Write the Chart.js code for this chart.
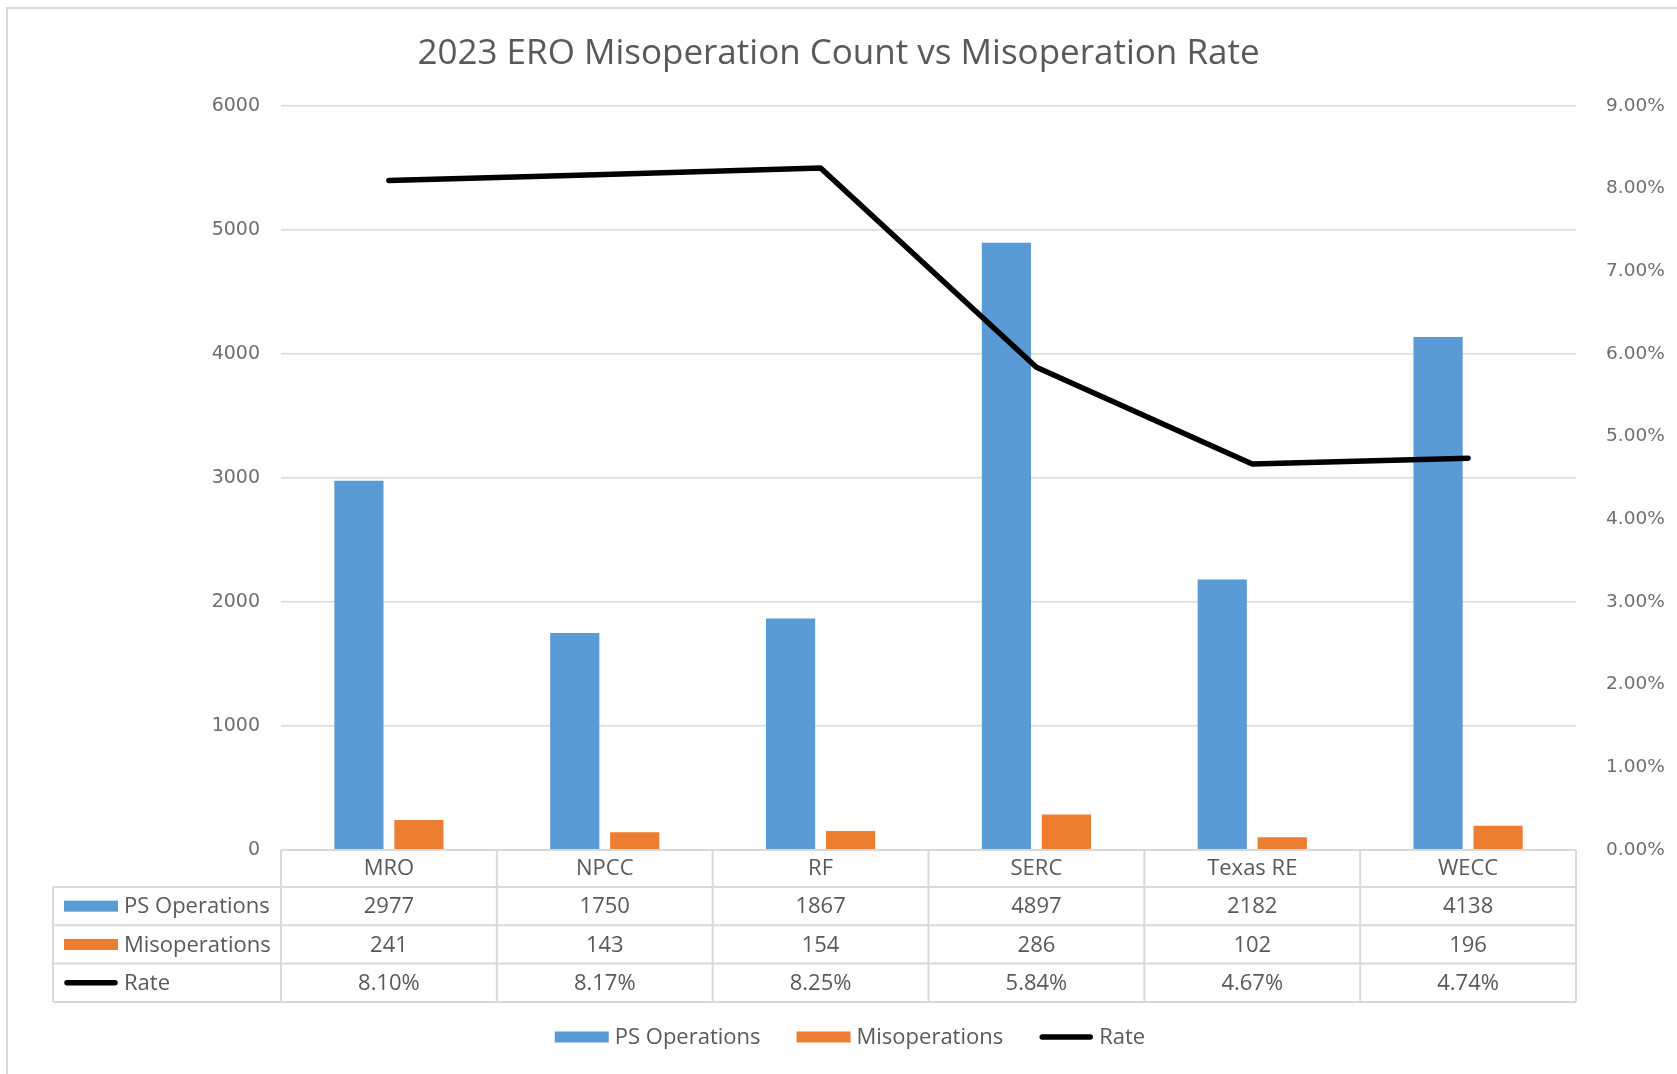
<!DOCTYPE html>
<html>
<head>
<meta charset="utf-8">
<title>2023 ERO Misoperation Count vs Misoperation Rate</title>
<script src="https://cdn.jsdelivr.net/npm/chart.js@4.4.1/dist/chart.umd.min.js"></script>
<style>
  html, body { margin: 0; padding: 0; background: #fff; }
  #wrap { width: 1677px; height: 1074px; position: relative; }
</style>
</head>
<body>
<div id="wrap"><canvas id="myChart"></canvas></div>
<script>
// data
const regions = ['MRO', 'NPCC', 'RF', 'SERC', 'Texas RE', 'WECC'];
const psOperations = [2977, 1750, 1867, 4897, 2182, 4138];
const misoperations = [241, 143, 154, 286, 102, 196];
const ratePct = [8.10, 8.17, 8.25, 5.84, 4.67, 4.74];
const countAxis = { min: 0, max: 6000, step: 1000 };
const rateAxis = { min: 0, max: 9, step: 1 };

const blue = '#5B9BD5';
const orange = '#ED7D31';
const textGray = '#595959';
const lineGray = '#d9d9d9';
const sans = "'Open Sans', sans-serif";

var ctx = document.getElementById('myChart').getContext('2d');

// frame round the chart (only the left and top edges show in the picture)
const framePlugin = {
  id: 'frame',
  beforeDraw(chart) {
    const c = chart.ctx;
    c.save();
    c.fillStyle = '#fff';
    c.fillRect(0, 0, chart.width, chart.height);
    c.strokeStyle = lineGray;
    c.lineWidth = 2;
    c.beginPath();
    c.moveTo(7, chart.height);
    c.lineTo(7, 8);
    c.lineTo(chart.width, 8);
    c.stroke();
    c.restore();
  }
};

function drawKey(c, ds, x0, x1, yc) {
  if (ds.type === 'line') {
    c.strokeStyle = ds.borderColor;
    c.lineWidth = 5.5;
    c.lineCap = 'round';
    c.beginPath();
    c.moveTo(x0 + 3, yc);
    c.lineTo(x1 - 3, yc);
    c.stroke();
  } else {
    c.fillStyle = ds.backgroundColor;
    c.fillRect(x0, yc - 5.5, x1 - x0, 11);
  }
}

// Excel style data table under the plot, plus the legend
const tablePlugin = {
  id: 'dataTable',
  afterDraw(chart) {
    const c = chart.ctx;
    const xs = chart.scales.x;
    const area = chart.chartArea;
    const sets = chart.data.datasets;
    const n = chart.data.labels.length;
    const colW = (area.right - area.left) / n;
    const top = area.bottom;
    const headBottom = xs.bottom;
    const rowH = 38.3;
    const tableLeft = 53;
    const bottom = headBottom + rowH * sets.length;

    c.save();
    c.strokeStyle = lineGray;
    c.lineWidth = 2;
    c.beginPath();
    // header top
    c.moveTo(area.left, top);
    c.lineTo(area.right, top);
    // row lines
    for (let r = 0; r <= sets.length; r++) {
      const y = headBottom + rowH * r;
      c.moveTo(tableLeft, y);
      c.lineTo(area.right, y);
    }
    // verticals
    c.moveTo(tableLeft, headBottom);
    c.lineTo(tableLeft, bottom);
    for (let i = 0; i <= n; i++) {
      const x = area.left + colW * i;
      c.moveTo(x, top);
      c.lineTo(x, bottom);
    }
    c.stroke();

    c.font = '22px ' + sans;
    c.fillStyle = textGray;
    c.textBaseline = 'middle';
    sets.forEach(function(ds, r) {
      const yc = headBottom + rowH * r + rowH / 2;
      drawKey(c, ds, 64, 118, yc);
      c.fillStyle = textGray;
      c.textAlign = 'left';
      c.fillText(ds.label, 124, yc + 1);
      c.textAlign = 'center';
      ds.data.forEach(function(v, i) {
        const txt = ds.type === 'line' ? v.toFixed(2) + '%' : String(v);
        c.fillText(txt, xs.getPixelForValue(i), yc + 1);
      });
    });

    // legend
    const ly = 1037;
    const keyW = 54, gap = 6, itemGap = 36;
    const widths = sets.map(ds => keyW + gap + c.measureText(ds.label).width);
    const total = widths.reduce((a, b) => a + b, 0) + itemGap * (sets.length - 1);
    let lx = 850 - total / 2;
    sets.forEach(function(ds, i) {
      drawKey(c, ds, lx, lx + keyW, ly);
      c.fillStyle = textGray;
      c.textAlign = 'left';
      c.fillText(ds.label, lx + keyW + gap, ly + 1);
      lx += widths[i] + itemGap;
    });
    c.restore();
  }
};

var chart = new Chart(ctx, {
  data: {
    labels: regions,
    datasets: [{
      type: 'bar',
      label: 'PS Operations',
      data: psOperations,
      yAxisID: 'y',
      backgroundColor: blue,
      categoryPercentage: 0.556,
      barPercentage: 0.82,
      order: 1
    }, {
      type: 'bar',
      label: 'Misoperations',
      data: misoperations,
      yAxisID: 'y',
      backgroundColor: orange,
      categoryPercentage: 0.556,
      barPercentage: 0.82,
      order: 1
    }, {
      type: 'line',
      label: 'Rate',
      data: ratePct,
      yAxisID: 'y1',
      borderColor: '#000000',
      backgroundColor: '#000000',
      borderWidth: 5.5,
      borderCapStyle: 'round',
      borderJoinStyle: 'round',
      pointRadius: 0,
      tension: 0,
      order: 0
    }]
  },
  options: {
    responsive: true,
    maintainAspectRatio: false,
    animation: false,
    layout: { padding: { top: 0, left: 0, right: 0, bottom: 187 } },
    plugins: {
      legend: { display: false },
      tooltip: { enabled: false },
      title: {
        display: true,
        text: '2023 ERO Misoperation Count vs Misoperation Rate',
        color: textGray,
        font: { family: sans, size: 35, weight: 'normal', lineHeight: 1.2 },
        padding: { top: 33, bottom: 31 }
      }
    },
    scales: {
      x: {
        grid: { display: false },
        border: { display: false },
        ticks: { color: textGray, font: { family: sans, size: 22 }, padding: -2 },
        afterFit(scale) { scale.height = 37; }
      },
      y: {
        position: 'left',
        min: countAxis.min,
        max: countAxis.max,
        ticks: {
          stepSize: countAxis.step,
          color: '#6e6e6e',
          font: { family: "'DejaVu Sans', sans-serif", size: 19 },
          padding: 21,
          callback: function(v) { return String(v); }
        },
        grid: { color: lineGray, lineWidth: 1.5, drawTicks: false },
        border: { display: false },
        afterFit(scale) { scale.width = 281; }
      },
      y1: {
        position: 'right',
        min: rateAxis.min,
        max: rateAxis.max,
        ticks: {
          stepSize: rateAxis.step,
          color: '#6e6e6e',
          font: { family: "'DejaVu Sans', sans-serif", size: 18.5 },
          padding: 30,
          callback: function(v) { return v.toFixed(2) + '%'; }
        },
        grid: { display: false, drawTicks: false },
        border: { display: false },
        afterFit(scale) { scale.width = 101; }
      }
    }
  },
  plugins: [framePlugin, tablePlugin]
});
</script>
</body>
</html>
